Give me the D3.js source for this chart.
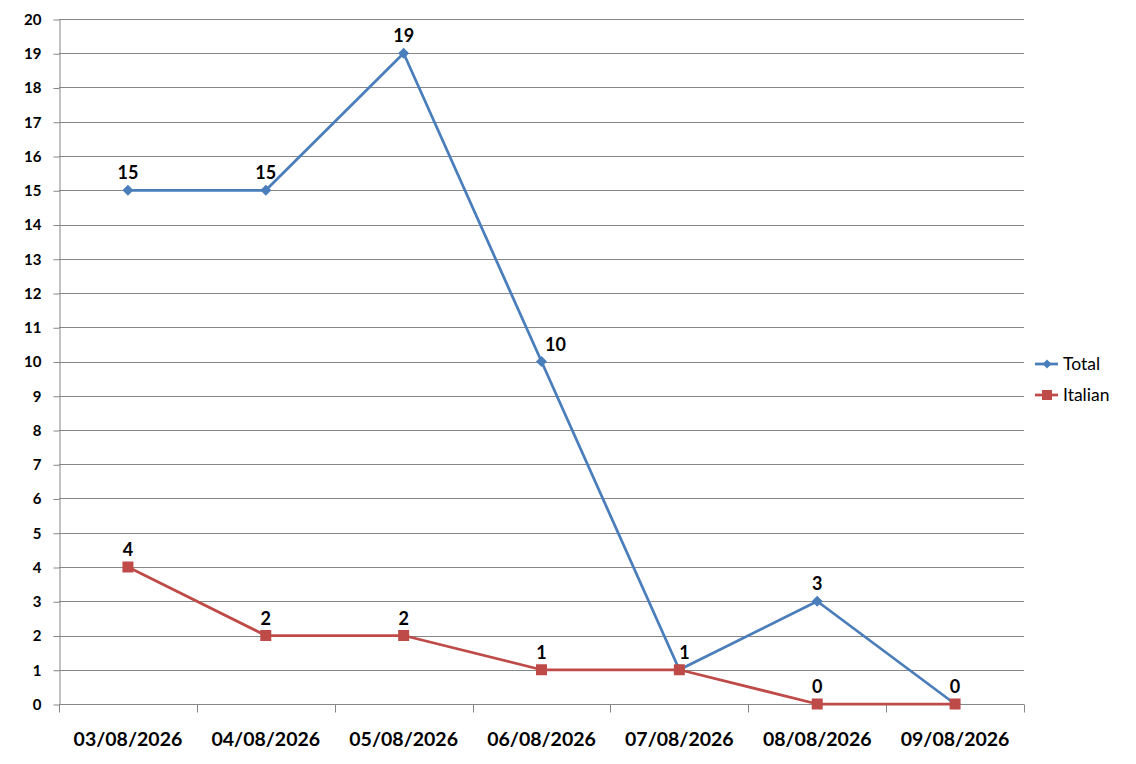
<!DOCTYPE html>
<html>
<head>
<meta charset="utf-8">
<script src="https://cdn.jsdelivr.net/npm/d3@7"></script>
<style>
  body { margin: 0; background: #fff; }
  svg { display: block; }
</style>
</head>
<body>
<div id="chart"></div>
<script>
// data
const dates = ['03/08/2026', '04/08/2026', '05/08/2026', '06/08/2026', '07/08/2026', '08/08/2026', '09/08/2026'];
const totalValues = [15, 15, 19, 10, 1, 3, 0];
const italianValues = [4, 2, 2, 1, 1, 0, 0];
const yTicks = d3.range(0, 21);
const seriesNames = ['Total', 'Italian'];

const width = 1136, height = 764;
const margin = { top: 19, right: 112, bottom: 60, left: 59 };
const font = 'Lato, "Open Sans", sans-serif';
const colors = { Total: '#4a7ebb', Italian: '#be4b48' };
const gridColor = '#868686';

const svg = d3.select('#chart').append('svg')
  .attr('width', width).attr('height', height);

const x = d3.scaleBand().domain(dates).range([margin.left, width - margin.right]);
const y = d3.scaleLinear().domain([0, 20]).range([height - margin.bottom, margin.top]);
const cx = d => x(d) + x.bandwidth() / 2;

// marker shapes: a square-ish diamond and a square
const diamond = s => `M0,${-s}L${s},0L0,${s}L${-s},0Z`;
const square = s => `M${-s},${-s}H${s}V${s}H${-s}Z`;

// horizontal gridlines
svg.append('g')
  .selectAll('line')
  .data(yTicks.filter(t => t > 0))
  .join('line')
  .attr('x1', margin.left).attr('x2', width - margin.right)
  .attr('y1', d => Math.round(y(d)) + 0.5).attr('y2', d => Math.round(y(d)) + 0.5)
  .attr('stroke', gridColor).attr('stroke-width', 1);

// y axis
const yAxis = svg.append('g')
  .attr('transform', `translate(${margin.left + 0.5},0.5)`)
  .call(d3.axisLeft(y).tickValues(yTicks).tickSize(6).tickSizeOuter(0).tickPadding(12));
yAxis.select('.domain').attr('stroke', gridColor);
yAxis.selectAll('.tick line').attr('stroke', gridColor);
yAxis.selectAll('text')
  .attr('font-family', font).attr('font-size', 15).attr('font-weight', 'bold').attr('fill', '#000');

// x axis, ticks sit on band boundaries
const xBase = Math.round(y(0)) + 0.5;
svg.append('line')
  .attr('x1', margin.left).attr('x2', width - margin.right)
  .attr('y1', xBase).attr('y2', xBase)
  .attr('stroke', gridColor);
const boundaries = dates.map(d => x(d)).concat([x(dates[dates.length - 1]) + x.bandwidth()]);
svg.append('g')
  .selectAll('line')
  .data(boundaries)
  .join('line')
  .attr('x1', d => Math.round(d) + 0.5).attr('x2', d => Math.round(d) + 0.5)
  .attr('y1', xBase).attr('y2', xBase + 8)
  .attr('stroke', gridColor);
svg.append('g')
  .selectAll('text')
  .data(dates)
  .join('text')
  .attr('x', d => cx(d)).attr('y', xBase + 41)
  .attr('text-anchor', 'middle')
  .attr('font-family', font).attr('font-size', 19.5).attr('font-weight', 'bold')
  .text(d => d);

const line = d3.line().x((d, i) => cx(dates[i])).y(d => y(d));

function drawSeries(name, values, shape) {
  const g = svg.append('g');
  g.append('path')
    .datum(values)
    .attr('d', line)
    .attr('fill', 'none')
    .attr('stroke', colors[name])
    .attr('stroke-width', 2.75)
    .attr('stroke-linejoin', 'round');
  g.selectAll('path.marker')
    .data(values)
    .join('path')
    .attr('class', 'marker')
    .attr('transform', (d, i) => `translate(${cx(dates[i])},${y(d)})`)
    .attr('d', shape)
    .attr('fill', colors[name]);
}

drawSeries('Total', totalValues, diamond(5.5));
drawSeries('Italian', italianValues, square(5.5));

// data labels
const labelStyle = sel => sel
  .attr('font-family', font).attr('font-weight', 'bold').attr('font-size', 18)
  .attr('text-anchor', 'middle').attr('fill', '#000');

svg.append('g')
  .selectAll('text')
  .data(totalValues)
  .join('text')
  .attr('x', (d, i) => cx(dates[i]) + (i === 3 ? 14 : i === 4 ? 5 : 0))
  .attr('y', d => y(d) - 11)
  .call(labelStyle)
  .text(d => d);

// Italian labels that would sit under Total's are not drawn
const italianLabels = italianValues.map((v, i) => ({ v, i })).filter(o => o.i !== 4 && o.i !== 6);
svg.append('g')
  .selectAll('text')
  .data(italianLabels)
  .join('text')
  .attr('x', o => cx(dates[o.i]))
  .attr('y', o => y(o.v) - 11)
  .call(labelStyle)
  .text(o => o.v);

// legend
const legend = svg.append('g').attr('transform', 'translate(1035,364)');
const legendShapes = [diamond(4.5), square(5)];
seriesNames.forEach((name, i) => {
  const row = legend.append('g').attr('transform', `translate(0,${i * 31})`);
  row.append('line').attr('x1', 0).attr('x2', 23).attr('y1', 0).attr('y2', 0)
    .attr('stroke', colors[name]).attr('stroke-width', 2.75);
  row.append('path').attr('transform', 'translate(12,0)')
    .attr('d', legendShapes[i])
    .attr('fill', colors[name]);
  row.append('text').attr('x', 28).attr('y', 6)
    .attr('font-family', font).attr('font-size', 17.5).attr('fill', '#000')
    .text(name);
});
</script>
</body>
</html>
